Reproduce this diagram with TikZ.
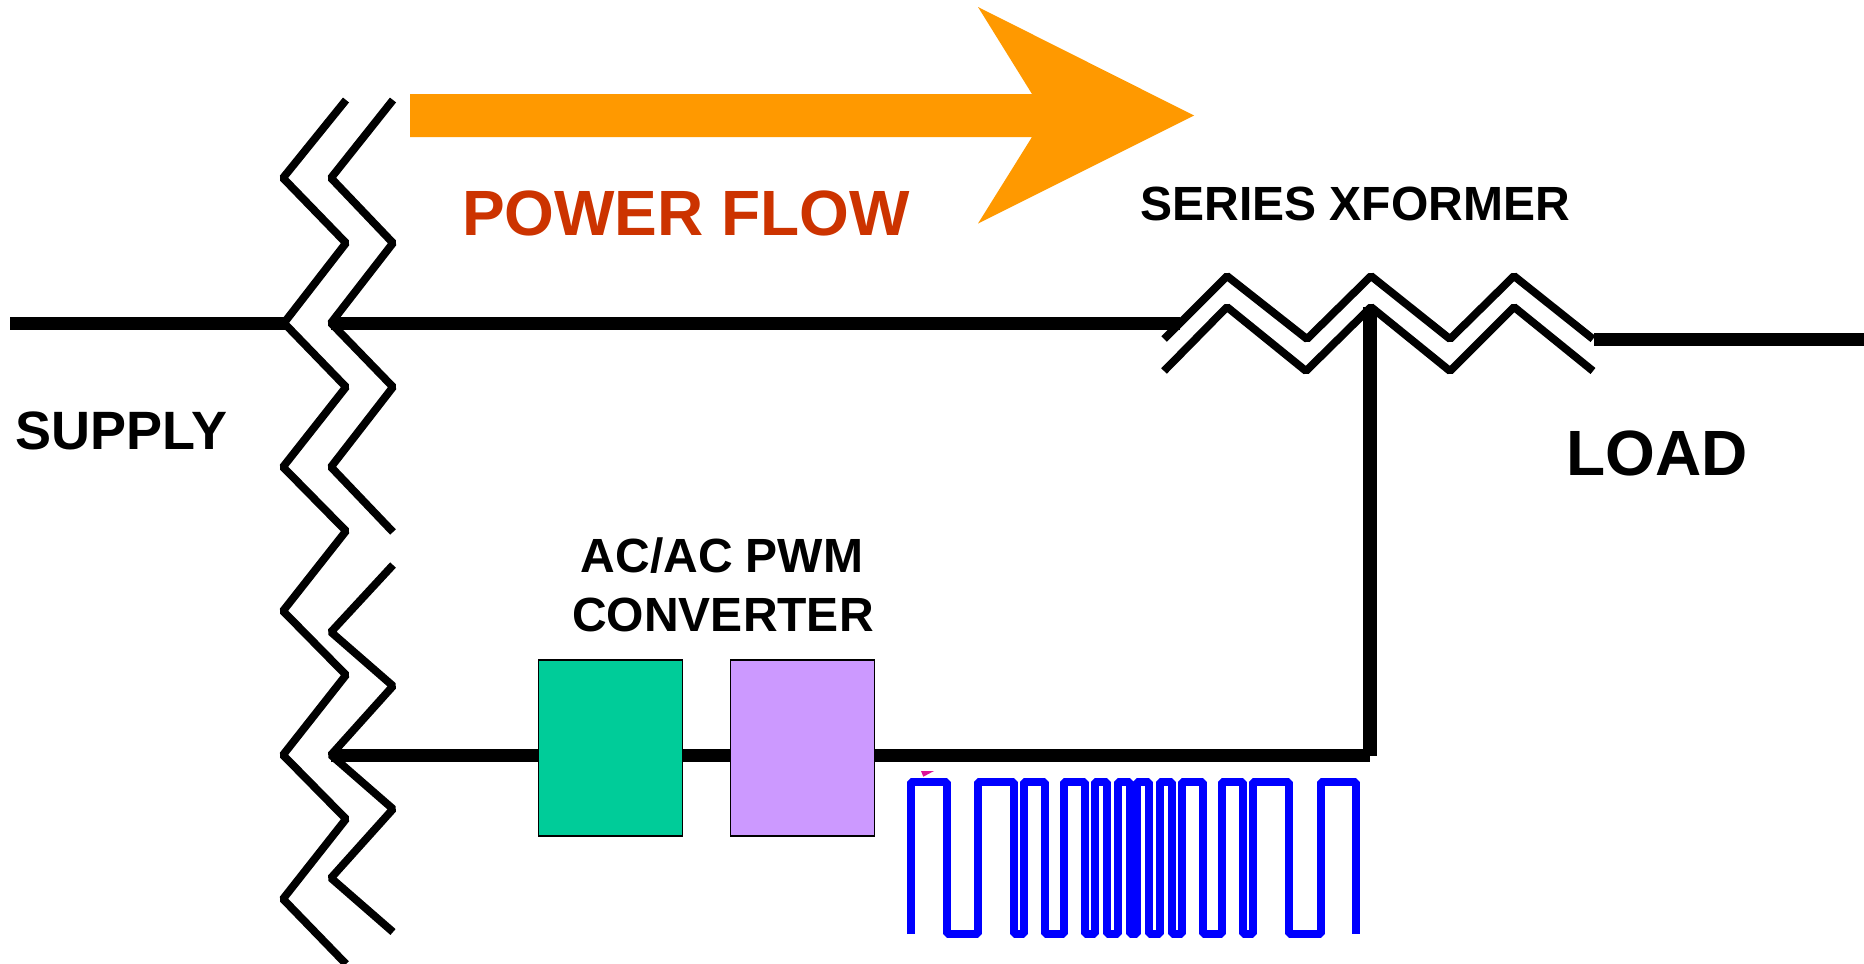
\documentclass[tikz,border=0pt]{standalone}
\usepackage{fontspec}
\setmainfont{Liberation Sans}
\usepackage{xcolor}
\definecolor{flowfill}{HTML}{FF9900}
\definecolor{flowtext}{HTML}{CC3300}
\definecolor{convgreen}{HTML}{00CC99}
\definecolor{convpurple}{HTML}{CC99FF}
\definecolor{pwmmark}{HTML}{DD1199}
\tikzset{
  coil/.style={line width=3.9pt, line join=bevel},
  lead/.style={line width=6.6pt},
  wave/.style={line width=4pt, blue, line join=bevel},
  convbox/.style={draw=black, line width=0.75pt, minimum width=72pt, minimum height=88pt, inner sep=0pt, outer sep=0pt},
  bigtext/.style={font=\bfseries\fontsize{32}{36}\selectfont, inner sep=0pt, anchor=base},
  midtext/.style={font=\bfseries\fontsize{24}{28}\selectfont, inner sep=0pt, anchor=base},
}
\begin{document}
\begin{tikzpicture}[x=0.5pt,y=-0.5pt]
      \useasboundingbox (0,0) rectangle (1864,964);

      % Power flow arrow
      \fill[flowfill] (410,94) -- (1032,94) -- (978,7) -- (1194,115.5) -- (978,223.5) -- (1032,137) -- (410,137) -- cycle;
      \node[bigtext, text=flowtext] (flowlabel) at (686,235.3) {POWER FLOW};

      % Supply transformer windings
      \draw[coil] (346,100) -- (283,178) -- (346,243) -- (284,323) -- (346,387) -- (283,467) -- (346,531) -- (283,611) -- (346,675) -- (283,755) -- (346,819) -- (283,899) -- (346,964);
      \draw[coil] (393,100) -- (331,178) -- (393,243) -- (331,323) -- (393,387) -- (331,467) -- (393,532);
      \draw[coil] (393,565) -- (331,632) -- (393,686) -- (331,755) -- (393,809) -- (331,878) -- (393,932);

      % Series transformer windings
      \draw[coil] (1164,339) -- (1227,276) -- (1307,339) -- (1371,276) -- (1450,339) -- (1514,276) -- (1593,339);
      \draw[coil] (1164,371) -- (1227,307) -- (1306,371) -- (1371,307) -- (1450,371) -- (1514,307) -- (1593,371);

      % Terminals
      \coordinate (supplyin) at (10,323.5);
      \coordinate (supplytap) at (285,323.5);
      \coordinate (linestart) at (331,323.5);
      \coordinate (lineend) at (1180,323.5);
      \coordinate (loadstart) at (1594,339.5);
      \coordinate (loadend) at (1864,339.5);
      \coordinate (convtap) at (331,755.5);
      \coordinate (xfmrcorner) at (1370,755.5);
      \coordinate (xfmrtap) at (1370,307);

      % Converter boxes
      \node[convbox, fill=convgreen] (convleft) at (610.5,748) {};
      \node[convbox, fill=convpurple] (convright) at (802.5,748) {};

      % Main lines
      \draw[lead] (supplyin) -- (supplytap);
      \draw[lead] (linestart) -- (lineend);
      \draw[lead] (loadstart) -- (loadend);
      \draw[lead] (convtap) -- (convleft.west |- convtap);
      \draw[lead] (convleft.east |- convtap) -- (convright.west |- convtap);
      \draw[lead] (convright.east |- convtap) -- (xfmrcorner);
      \draw[lead] (xfmrtap) -- (xfmrcorner);

      % Labels
      \node[midtext] (xfmrlabel) at (1355,220.5) {SERIES XFORMER};
      \node[bigtext] (loadlabel) at (1657,475) {LOAD};
      \node[midtext, font=\bfseries\fontsize{27}{30}\selectfont] (supplylabel) at (121.5,449) {SUPPLY};
      \node[midtext] (convlabela) at (722,572) {AC/AC PWM};
      \node[midtext] (convlabelb) at (723,631) {CONVERTER};

      % PWM waveform
      \draw[wave] (911,934) -- (911,782) -- (947,782) -- (947,934) -- (978,934) -- (978,782) -- (1014,782) -- (1014,934)
        -- (1024,934) -- (1024,782) -- (1045,782) -- (1045,934) -- (1064,934) -- (1064,782) -- (1085,782) -- (1085,934)
        -- (1095,934) -- (1095,782) -- (1107,782) -- (1107,934) -- (1118,934) -- (1118,782) -- (1130,782) -- (1130,934)
        -- (1137,934) -- (1137,782) -- (1149,782) -- (1149,934) -- (1160,934) -- (1160,782) -- (1172,782) -- (1172,934)
        -- (1182,934) -- (1182,782) -- (1203,782) -- (1203,934) -- (1222,934) -- (1222,782) -- (1243,782) -- (1243,934)
        -- (1253,934) -- (1253,782) -- (1289,782) -- (1289,934) -- (1321,934) -- (1321,782) -- (1356,782) -- (1356,934);
      \fill[pwmmark] (921,771) -- (934,771) -- (923.3,776.7) -- cycle;
    \end{tikzpicture}
\end{document}
